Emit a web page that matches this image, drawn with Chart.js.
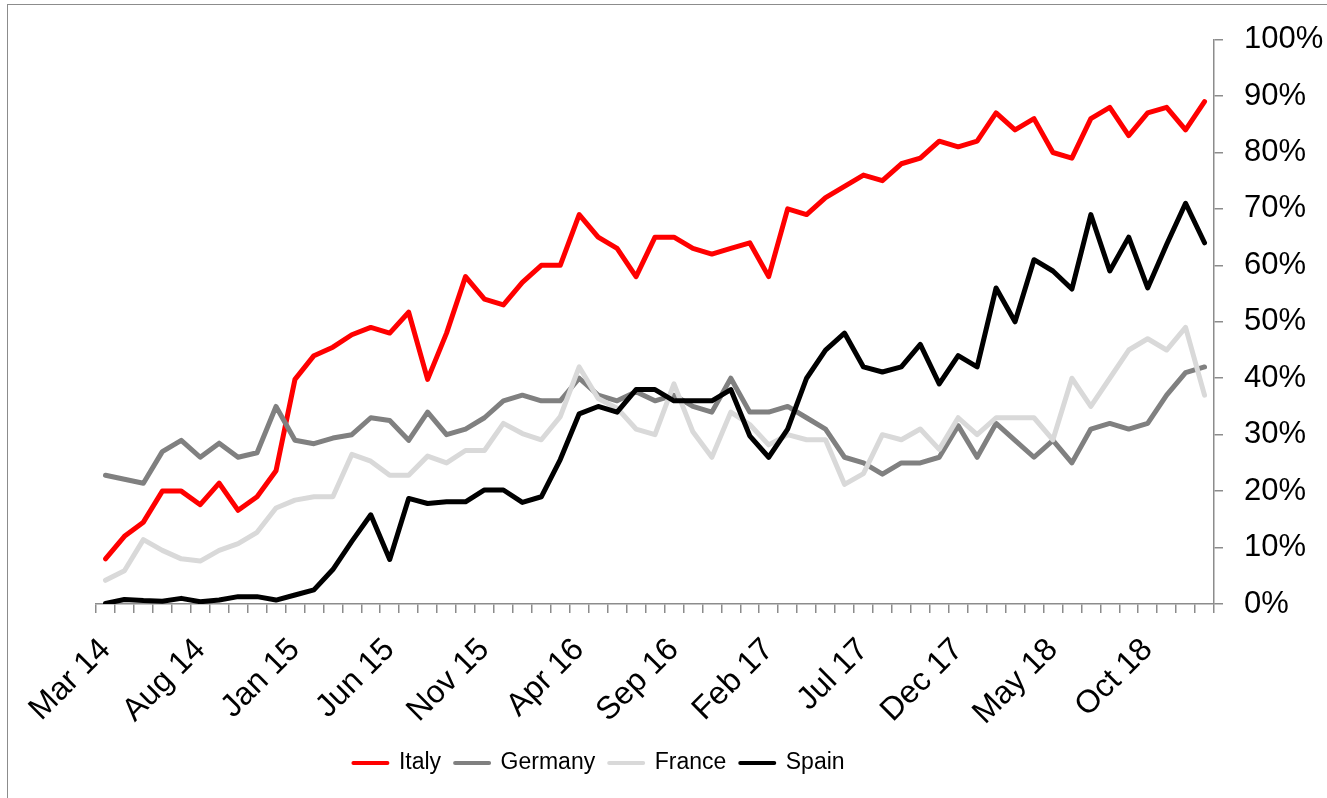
<!DOCTYPE html>
<html>
<head>
<meta charset="utf-8">
<script src="https://cdn.jsdelivr.net/npm/chart.js@4.4.1/dist/chart.umd.min.js"></script>
<style>
  html, body { margin: 0; padding: 0; background: #fff; }
  #wrap { position: relative; width: 1327px; height: 798px; overflow: hidden; }
  #frame { position: absolute; left: 7px; top: 4px; width: 1400px; height: 900px;
           border-left: 1px solid #8c8c8c; border-top: 1px solid #8c8c8c; }
  canvas { position: absolute; left: 0; top: 0; }
</style>
</head>
<body>
<div id="wrap">
  <div id="frame"></div>
  <canvas id="chart" width="1327" height="798"></canvas>
</div>
<script>
// mois, de mars 2014 à janvier 2019
const months = [
  'Mar 14', 'Apr 14', 'May 14', 'Jun 14', 'Jul 14', 'Aug 14', 'Sep 14', 'Oct 14', 'Nov 14', 'Dec 14',
  'Jan 15', 'Feb 15', 'Mar 15', 'Apr 15', 'May 15', 'Jun 15', 'Jul 15', 'Aug 15', 'Sep 15', 'Oct 15',
  'Nov 15', 'Dec 15', 'Jan 16', 'Feb 16', 'Mar 16', 'Apr 16', 'May 16', 'Jun 16', 'Jul 16', 'Aug 16',
  'Sep 16', 'Oct 16', 'Nov 16', 'Dec 16', 'Jan 17', 'Feb 17', 'Mar 17', 'Apr 17', 'May 17', 'Jun 17',
  'Jul 17', 'Aug 17', 'Sep 17', 'Oct 17', 'Nov 17', 'Dec 17', 'Jan 18', 'Feb 18', 'Mar 18', 'Apr 18',
  'May 18', 'Jun 18', 'Jul 18', 'Aug 18', 'Sep 18', 'Oct 18', 'Nov 18', 'Dec 18', 'Jan 19'
];

// étiquettes affichées sur l'axe des x
const tickLabels = ['Mar 14', 'Aug 14', 'Jan 15', 'Jun 15', 'Nov 15', 'Apr 16',
                    'Sep 16', 'Feb 17', 'Jul 17', 'Dec 17', 'May 18', 'Oct 18'];

// valeurs en %
const italy = [
  8, 12, 14.5, 20, 20, 17.6, 21.4, 16.6, 19, 23.6,
  39.8, 44, 45.5, 47.7, 49, 48, 51.7, 39.8, 48, 58,
  54, 53, 57, 60, 60, 69, 65, 63, 58, 65,
  65, 63, 62, 63, 64, 58, 70, 69, 72, 74,
  76, 75, 78, 79, 82, 81, 82, 87, 84, 86,
  80, 79, 86, 88, 83, 87, 88, 84, 89
];
const germany = [
  22.8, 22.1, 21.4, 27, 29, 26, 28.5, 26, 26.8, 35,
  29, 28.4, 29.4, 30, 33, 32.5, 29, 34, 30, 31,
  33, 36, 37, 36, 36, 40, 37, 36, 37.6, 36,
  37, 35, 34, 40, 34, 34, 35, 33, 31, 26,
  25, 23, 25, 25, 26, 31.6, 26, 32, 29, 26,
  29, 25, 31, 32, 31, 32, 37, 41, 42
];
const france = [
  4.2, 5.9, 11.4, 9.5, 8, 7.6, 9.5, 10.7, 12.7, 17,
  18.4, 19, 19, 26.5, 25.3, 22.8, 22.8, 26.2, 25, 27.2,
  27.2, 32, 30.2, 29.1, 33.2, 42, 36.4, 34.7, 31, 30,
  39, 30.5, 26, 34, 31.8, 28.2, 30, 29.1, 29.1, 21.2,
  23.1, 30, 29.1, 31, 27.4, 33, 30, 33, 33, 33,
  29.1, 40, 35, 40, 45, 47, 45, 49, 37
];
const spain = [
  0.1, 0.8, 0.6, 0.5, 1.0, 0.4, 0.7, 1.3, 1.3, 0.7,
  1.6, 2.5, 6.1, 11.1, 15.8, 7.9, 18.7, 17.8, 18.1, 18.1,
  20.2, 20.2, 18, 19, 25.6, 33.7, 35, 34, 38, 38,
  36, 36, 36, 38, 29.8, 26, 31, 40, 45, 48,
  42, 41.1, 42, 46, 39, 44, 42, 56, 50, 61,
  59, 55.8, 69, 59, 65, 56, 63.7, 71, 64
];

const FONT = "'Liberation Sans', Arial, sans-serif";
const AXIS_GREY = '#8c8c8c';
const LEGEND_CENTER = 599;

// décale la légende horizontalement (elle n'est pas centrée sur le canvas)
const legendShift = {
    id: 'legendShift',
    afterLayout(chart) {
        const lg = chart.legend;
        if (!lg) return;
        const dx = LEGEND_CENTER - (lg.left + lg.right) / 2;
        lg.left += dx;
        lg.right += dx;
    },
};

function line(label, data, color, order) {
    return {
        label,
        data,
        borderColor: color,
        backgroundColor: color,
        borderWidth: 5,
        pointRadius: 0,
        tension: 0,
        fill: false,
        borderJoinStyle: 'round',
        borderCapStyle: 'round',
        order,
    };
}

new Chart(document.getElementById('chart'), {
    type: 'line',
    data: {
        labels: months,
        datasets: [
            line('Italy', italy, '#ff0000', 3),
            line('Germany', germany, '#808080', 2),
            line('France', france, '#d9d9d9', 1),
            line('Spain', spain, '#000000', 0),
        ],
    },
    options: {
        responsive: false,
        animation: false,
        layout: { padding: { top: 33, left: 96, right: 0, bottom: 13.5 } },
        plugins: {
            tooltip: { enabled: false },
            legend: {
                position: 'bottom',
                labels: {
                    font: { family: FONT, size: 23 },
                    color: '#000',
                    boxWidth: 34,
                    boxHeight: 0,
                    padding: 14,
                    sort: (a, b) => a.datasetIndex - b.datasetIndex,
                    generateLabels: (chart) =>
                        Chart.defaults.plugins.legend.labels.generateLabels(chart)
                            .map((item) => Object.assign(item, { lineWidth: 4 })),
                },
            },
        },
        scales: {
            x: {
                type: 'category',
                offset: true,
                grid: {
                    offset: true,
                    drawOnChartArea: false,
                    drawTicks: true,
                    tickLength: 9,
                    color: AXIS_GREY,
                    lineWidth: 1.5,
                },
                border: { color: AXIS_GREY, width: 1.5 },
                ticks: {
                    autoSkip: false,
                    maxRotation: 45,
                    minRotation: 45,
                    padding: 18,
                    color: '#000',
                    font: { family: FONT, size: 32 },
                    callback: function (v) {
                        const l = this.getLabelForValue(v);
                        return tickLabels.includes(l) ? l : '';
                    },
                },
                afterFit: (scale) => { scale.height = 133.5; },
            },
            y: {
                position: 'right',
                min: 0,
                max: 100,
                grid: {
                    drawOnChartArea: false,
                    drawTicks: true,
                    tickLength: 9,
                    color: AXIS_GREY,
                    lineWidth: 1.5,
                },
                border: { color: AXIS_GREY, width: 1.5 },
                ticks: {
                    stepSize: 10,
                    padding: 21,
                    color: '#000',
                    font: { family: FONT, size: 31 },
                    callback: (v) => v + '%',
                },
                afterFit: (scale) => { scale.width = 113; },
            },
        },
    },
    plugins: [legendShift],
});
</script>
</body>
</html>
